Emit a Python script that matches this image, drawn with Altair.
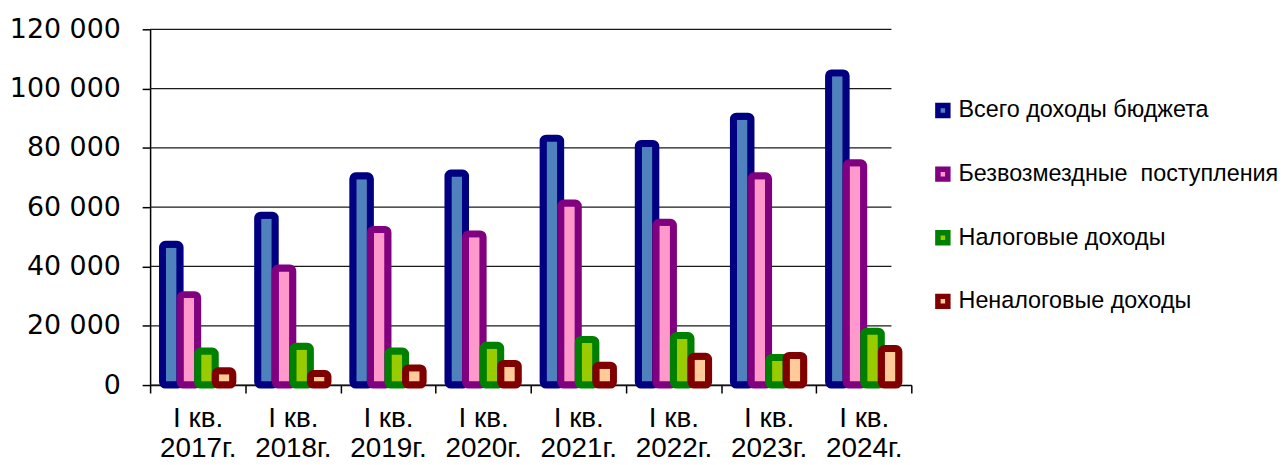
import altair as alt
import pandas as pd

quarter = "I кв."
years = ["2017г.", "2018г.", "2019г.", "2020г.", "2021г.", "2022г.", "2023г.", "2024г."]
series = ["Всего доходы бюджета", "Безвозмездные\u00a0 поступления", "Налоговые доходы", "Неналоговые доходы"]

total_income = [47500, 57300, 70600, 71500, 83300, 81500, 90700, 105300]
grants = [30500, 39500, 52500, 51000, 61400, 54900, 70600, 75000]
tax_income = [11500, 13100, 11500, 13400, 15400, 16700, 9300, 18200]
nontax_income = [4800, 3900, 5800, 7300, 6700, 9700, 10000, 12300]

fill_colors = ["#4F81BD", "#FF99CC", "#99CC00", "#FFCC99"]
stroke_colors = ["#000080", "#800080", "#008000", "#800000"]
y_ticks = [0, 20000, 40000, 60000, 80000, 100000, 120000]

rows = []
for i, yr in enumerate(years):
    for s, vals in zip(series, [total_income, grants, tax_income, nontax_income]):
        rows.append({"year": yr, "series": s, "value": vals[i]})
df = pd.DataFrame(rows)
grid_df = pd.DataFrame({"value": y_ticks})

YFONT = "DejaVu Sans"
FONT = "Liberation Sans"
years_js = "[" + ",".join(f"'{y}'" for y in years) + "]"

legend = alt.Legend(
    title=None, orient="none", legendX=786, legendY=70,
    symbolType="square", symbolSize=100, symbolStrokeWidth=5.5,
    labelFont=FONT, labelFontSize=23.5, labelColor="#000",
    rowPadding=31, labelOffset=4, padding=0, labelLimit=400,
)

y_scale = alt.Scale(domain=[0, 120000], nice=False)

grid = alt.Chart(grid_df).mark_rule(color="#1a1a1a", strokeWidth=1.3).encode(
    y=alt.Y("value:Q", scale=y_scale),
    x=alt.value(0),
    x2=alt.value(746),
)

bars = alt.Chart(df).mark_bar(strokeWidth=7, cornerRadius=3, y2Offset=-3.5).encode(
    x=alt.X(
        "year:N", sort=years,
        scale=alt.Scale(paddingInner=0, paddingOuter=0),
        axis=alt.Axis(
            title=None, labelAngle=0,
            labelExpr=f"indexof({years_js}, datum.label) >= 0 ? ['{quarter}', datum.label] : ''",
            tickBand="extent", tickSize=8, tickColor="#000", tickWidth=1.5,
            labelPadding=12, labelFont=FONT, labelFontSize=28, labelLineHeight=30,
            labelColor="#000", domainColor="#000", domainWidth=1.5, grid=False,
            labelBaseline="top",
        ),
    ),
    xOffset=alt.XOffset("series:N", sort=series,
                        scale=alt.Scale(paddingInner=0, paddingOuter=0.705)),
    y=alt.Y(
        "value:Q",
        scale=y_scale,
        axis=alt.Axis(
            values=y_ticks, title=None,
            labelExpr="datum.value == 0 ? '0' : format(datum.value / 1000, 'd') + ' 000'",
            tickSize=8, tickColor="#000", tickWidth=1.5, labelPadding=22,
            labelFont=YFONT, labelFontSize=27, labelColor="#000",
            domainColor="#000", domainWidth=1.5, grid=False,
        ),
    ),
    fill=alt.Fill("series:N", scale=alt.Scale(domain=series, range=fill_colors), legend=legend),
    stroke=alt.Stroke("series:N", scale=alt.Scale(domain=series, range=stroke_colors), legend=legend),
)

chart = alt.layer(grid, bars).properties(
    width=766, height=358,
    autosize=alt.AutoSizeParams(type="none"),
    padding={"left": 143, "top": 20, "right": 370, "bottom": 79},
    background="white",
).configure_view(stroke=None)

chart.save("out.html", embed_options={"renderer": "svg", "actions": False})
